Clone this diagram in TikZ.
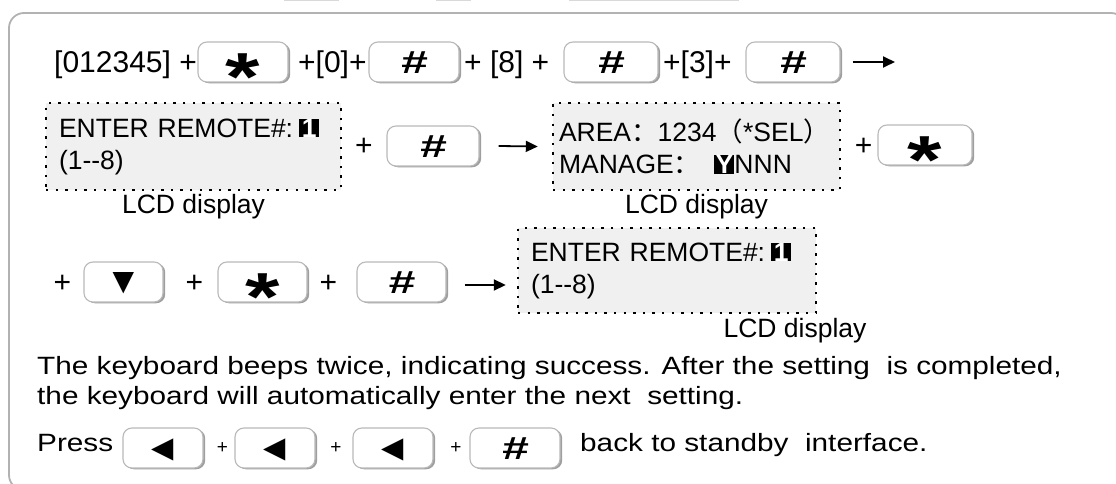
\documentclass[tikz,border=0pt]{standalone}
\usepackage{graphicx}
\usepackage{fontspec}
\setmainfont{Liberation Sans}
\newfontfamily\widefont[FakeStretch=1.19]{Liberation Sans}
\newfontfamily\symfont{DejaVu Sans}
\newfontfamily\cjk{Noto Sans CJK SC}
\usetikzlibrary{arrows.meta,positioning,shadows}

\newcommand{\hlt}[1]{{\setlength{\fboxsep}{0pt}\colorbox{black}{\makebox[0.76em]{\textcolor{white}{\bfseries #1}}}}}
\newcommand{\fc}{:\hspace{6pt}}
\newcommand{\hashsym}{{\fontsize{32}{32}\selectfont\bfseries\itshape\raisebox{-0.35em}{\scalebox{1.5}[1]{\#}}}}
\newcommand{\starsym}{{\fontsize{68}{68}\selectfont\bfseries\raisebox{-0.56em}{\scalebox{1.3}[1]{*}}}}
\newcommand{\downsym}{{\symfont\fontsize{28}{28}\selectfont\raisebox{-0.3em}{▼}}}
\newcommand{\leftsym}{{\symfont\fontsize{29}{29}\selectfont\raisebox{-0.33em}{◀}}}
\newcommand{\bodyfont}{\widefont\fontsize{25}{30}\selectfont}

\begin{document}
\begin{tikzpicture}[
    x=1pt, y=-1pt,
    font=\fontsize{30}{36}\selectfont,
    keybox/.style={draw=gray!55, line width=1.1pt, fill=white, rounded corners=9pt,
        minimum width=#1, minimum height=40pt, text height=0pt, text depth=0pt, inner sep=0pt,
        general shadow={fill=gray!75, shadow xshift=2.2pt, shadow yshift=-1.3pt}},
    keybox/.default=90pt,
    lcd/.style={fill=gray!12, draw=black, line width=2.4pt, dash pattern=on 2.4pt off 7.2pt,
        font=\fontsize{26.5}{32}\selectfont, align=left, inner xsep=13pt, minimum height=87pt, text width=#1},
    txt/.style={anchor=base west, inner sep=0pt},
    plus/.style={anchor=base, inner sep=0pt},
    smallplus/.style={plus, font=\fontsize{19}{19}\selectfont},
    lcdcap/.style={font=\fontsize{26.5}{32}\selectfont, inner sep=0pt},
    arrow/.style={line width=1.8pt, -{Triangle[length=12pt, width=11pt]}},
]
    \useasboundingbox (0,0) rectangle (1116,484);
    \begin{scope}
        \clip (0,0) rectangle (1116,484);
        \draw[gray!60, line width=1.8pt, rounded corners=15pt] (9,13) rectangle (1126,490);
        \draw[gray!30, line width=1pt] (284,1) -- (339,1) (436,1) -- (471,1) (569,1) -- (739,1);
    \end{scope}

    \node[txt] (t1) at (54,73) {[012345] +};
    \node[keybox] (star1) at (243,62) {\starsym};
    \node[txt] (t2) at (298,73) {+[0]+};
    \node[keybox] (hash1) at (414,62) {\hashsym};
    \node[txt] (t3) at (464,73) {+ [8] +};
    \node[keybox={94pt}] (hash2) at (611,62) {\hashsym};
    \node[txt] (t4) at (663,73) {+[3]+};
    \node[keybox={94pt}] (hash3) at (793,62) {\hashsym};
    \coordinate (end1) at (895,62);
    \draw[arrow] ([xshift=12pt]hash3.east) -- (end1);

    \node[lcd=269pt] (lcd1) at (193.5,146.5) {\mbox{ENTER REMOTE\#\fc\hlt{1}}\\(1-{}-8)};
    \node[lcdcap, below=3pt of lcd1] (cap1) {LCD display};
    \node[plus] (p1) at (364,155) {+};
    \node[keybox={92pt}] (hash4) at (433,146) {\hashsym};
    \node[lcd=275pt, inner xsep=6pt] (lcd2) at (696.5,146.5) {\mbox{AREA{\cjk ：}1234{\cjk （}*SEL{\cjk ）}}\\\mbox{MANAGE{\cjk ：}\hspace{14pt}\hlt{Y}NNN}};
    \draw[arrow] ([xshift=19pt]hash4.east) -- ([xshift=-14pt]lcd2.west);
    \node[lcdcap, below=3pt of lcd2] (cap2) {LCD display};
    \node[plus] (p2) at (863.5,155) {+};
    \node[keybox={94pt}] (star2) at (925,145) {\starsym};

    \node[plus] (p3) at (62.5,292) {+};
    \node[keybox={79pt}] (down1) at (123.5,282) {\downsym};
    \node[plus] (p4) at (194.5,292) {+};
    \node[keybox={89pt}] (star3) at (262.5,282) {\starsym};
    \node[plus] (p5) at (328.5,292) {+};
    \node[keybox={89pt}] (hash5) at (401.5,282) {\hashsym};
    \node[lcd=272pt, minimum height=85pt] (lcd3) at (667,270.5) {\mbox{ENTER REMOTE\#\fc\hlt{1}}\\(1-{}-8)};
    \coordinate (out3) at ([shift={(18pt,-3pt)}]hash5.east);
    \coordinate (in3) at ([xshift=-11pt]lcd3.west);
    \draw[arrow] (out3) -- (in3 |- out3);
    \node[lcdcap] (cap3) at (795,331) {LCD display};

    \node[txt, font=\bodyfont] (l1) at (37,374) {The keyboard beeps twice, indicating success. After the setting \ is completed,};
    \node[txt, font=\bodyfont] (l2) at (37,404) {the keyboard will automatically enter the next \ setting.};
    \node[txt, font=\bodyfont] (l3) at (37,451) {Press};
    \node[keybox={80pt}] (left1) at (163,448) {\leftsym};
    \node[smallplus] (p6) at (222.5,453) {+};
    \node[keybox={80pt}] (left2) at (275,448) {\leftsym};
    \node[smallplus] (p7) at (336,453) {+};
    \node[keybox={80pt}] (left3) at (393,448) {\leftsym};
    \node[smallplus] (p8) at (456,453) {+};
    \node[keybox={90pt}] (hash6) at (515,448) {\hashsym};
    \node[txt, font=\bodyfont] (l4) at (580,451) {back to standby \ interface.};
\end{tikzpicture}
\end{document}
